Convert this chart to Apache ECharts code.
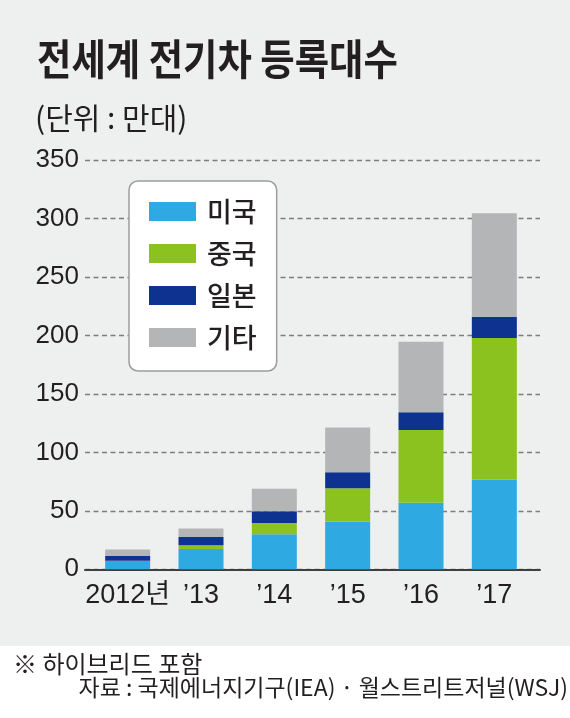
<!DOCTYPE html>
<html>
<head>
<meta charset="utf-8">
<script src="https://cdn.jsdelivr.net/npm/echarts@6/dist/echarts.min.js"></script>
<style>
html,body{margin:0;padding:0;background:#eeefef;}
#c{width:570px;height:718px;}
</style>
</head>
<body>
<div id="c"></div>
<script>
const categories = ['2012년', '\u201913', '\u201914', '\u201915', '\u201916', '\u201917'];
const seriesNames = ['미국', '중국', '일본', '기타'];
const usa   = [7.1, 17.4, 30.0, 40.9, 56.9, 76.9];
const china = [0.3, 3.2, 9.7, 28.5, 62.3, 121.0];
const japan = [4.0, 7.1, 10.0, 13.7, 15.1, 18.2];
const other = [5.5, 7.2, 19.2, 38.3, 60.4, 88.5];
const yTicks = [0, 50, 100, 150, 200, 250, 300, 350];
const colors = ['#2fa9e1', '#8cc21f', '#0d3290', '#b4b5b7'];

const numFont = "'Liberation Sans', 'Noto Sans CJK KR', sans-serif";
const krFont = "'Noto Sans CJK KR', sans-serif";

const chart = echarts.init(document.getElementById('c'), null, {renderer: 'canvas'});
const dataSets = [usa, china, japan, other];

const option = {
  backgroundColor: '#eeefef',
  animation: false,
  graphic: [
    {type: 'rect', z: -10, shape: {x: 0, y: 646, width: 570, height: 72}, style: {fill: '#ffffff'}},
    {type: 'text', x: 37, y: 59, scaleX: 0.89, originX: 0, style: {
      text: '전세계 전기차 등록대수', font: "bold 42px 'Noto Sans CJK KR', sans-serif",
      fill: '#231f20', textVerticalAlign: 'middle', textAlign: 'left'}},
    {type: 'text', x: 35, y: 117.5, style: {
      text: '(단위 : 만대)', font: "30px 'Noto Sans CJK KR', sans-serif",
      fill: '#231f20', textVerticalAlign: 'middle', textAlign: 'left'}},
    {type: 'text', x: 13, y: 663.5, style: {
      text: '※ 하이브리드 포함', font: "24px 'Noto Sans CJK KR', sans-serif",
      fill: '#231f20', textVerticalAlign: 'middle', textAlign: 'left'}},
    {type: 'text', x: 568, y: 687, style: {
      text: '자료 : 국제에너지기구(IEA) · 월스트리트저널(WSJ)', font: "23px 'Noto Sans CJK KR', sans-serif",
      fill: '#231f20', textVerticalAlign: 'middle', textAlign: 'right'}}
  ],
  legend: {
    data: seriesNames,
    orient: 'vertical',
    left: 129, top: 181,
    itemWidth: 47, itemHeight: 19, itemGap: 15,
    padding: [17, 20, 20, 20],
    backgroundColor: '#ffffff',
    borderColor: '#9d9d9d', borderWidth: 1.5, borderRadius: 9,
    icon: 'rect',
    textStyle: {fontSize: 27, lineHeight: 27, fontWeight: 500, color: '#231f20', fontFamily: krFont, padding: [0, 0, 0, 6]},
    selectedMode: false
  },
  grid: [
    {left: 85, right: 30, top: 160.2, bottom: 148.7},
    {left: 91, right: 39, top: 160.2, bottom: 148.7}
  ],
  xAxis: [
    {type: 'value', gridIndex: 0, min: 0, max: 1, axisLabel: {show: false}, axisTick: {show: false},
      splitLine: {show: false},
      axisLine: {show: true, onZero: false, lineStyle: {color: '#3e3e3e', width: 2}}},
    {type: 'category', gridIndex: 1, data: categories, axisLine: {show: false}, axisTick: {show: false},
      axisLabel: {interval: 0, fontSize: 27, fontFamily: numFont, color: '#231f20', margin: 13}}
  ],
  yAxis: [
    {type: 'value', gridIndex: 0, min: yTicks[0], max: yTicks[yTicks.length - 1], interval: 50,
      axisLine: {show: false}, axisTick: {show: false},
      axisLabel: {fontSize: 26, fontFamily: numFont, color: '#231f20', margin: 6, padding: [3, 0, 0, 0]},
      splitLine: {show: true, lineStyle: {color: '#7d7d7d', width: 1.3, type: [5, 3.5]}}},
    {type: 'value', gridIndex: 1, min: yTicks[0], max: yTicks[yTicks.length - 1], show: false,
      splitLine: {show: false}}
  ],
  series: seriesNames.map((name, i) => ({
    name: name,
    type: 'bar',
    stack: 'total',
    xAxisIndex: 1,
    yAxisIndex: 1,
    barWidth: 45,
    itemStyle: {color: colors[i]},
    data: dataSets[i]
  }))
};
chart.setOption(option);
</script>
</body>
</html>
